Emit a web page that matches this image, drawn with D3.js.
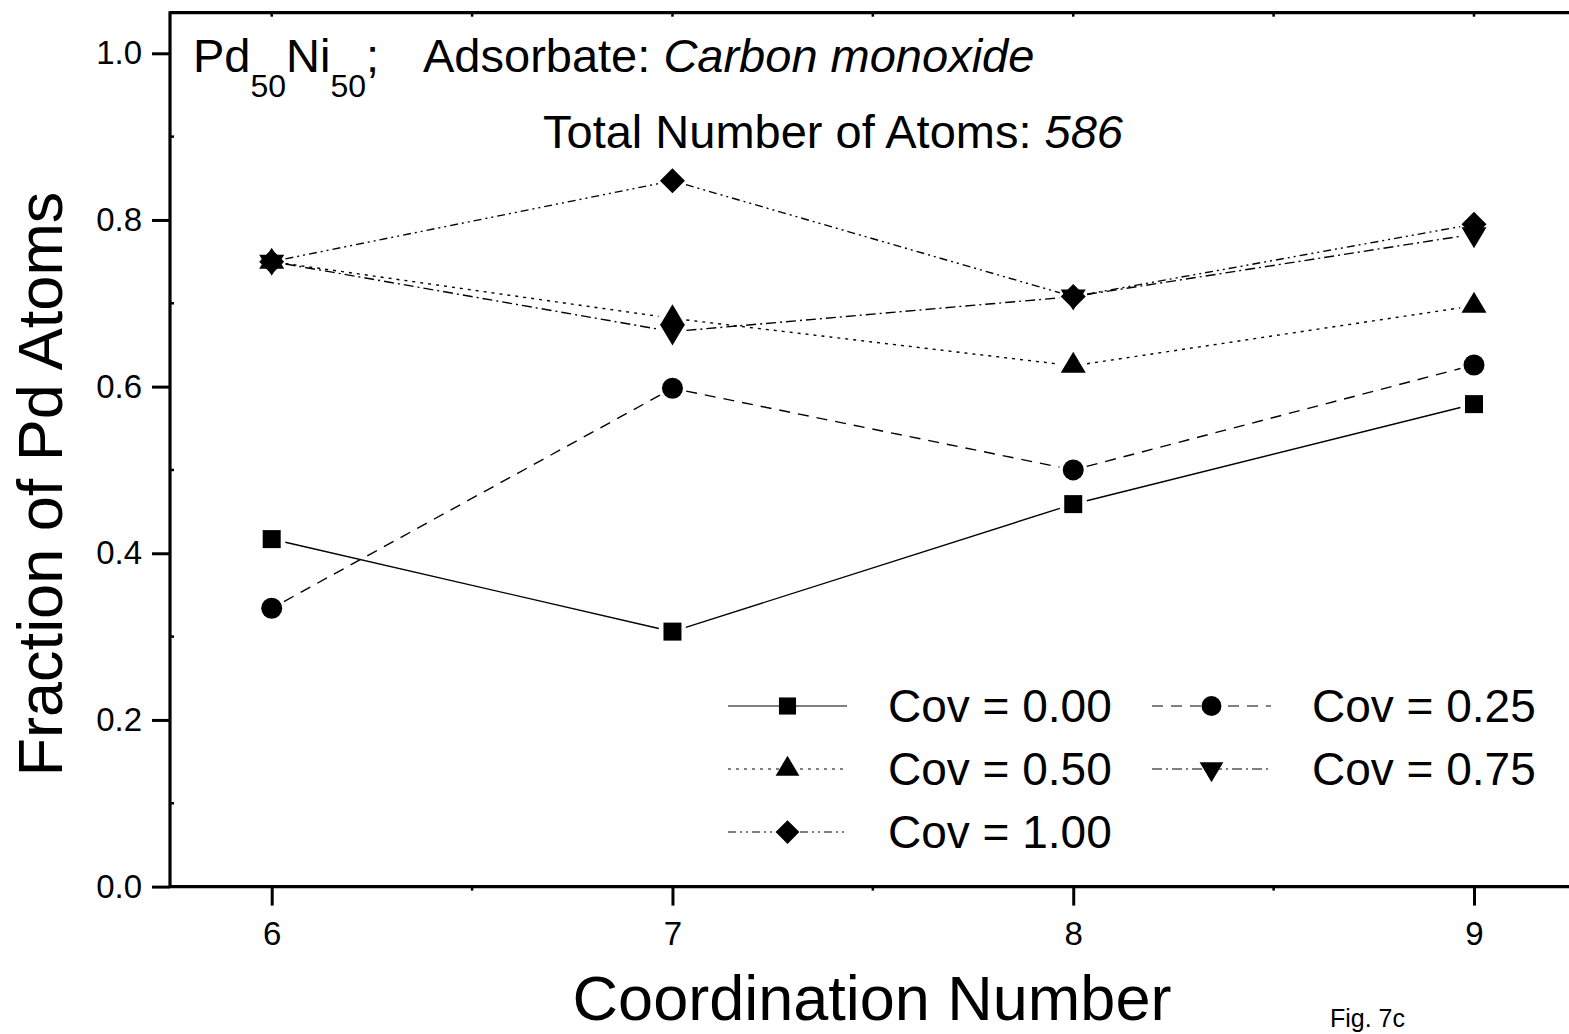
<!DOCTYPE html>
<html>
<head>
<meta charset="utf-8">
<script src="https://cdn.jsdelivr.net/npm/d3@7"></script>
<style>
  body { margin: 0; background: #fff; }
  text { font-family: "Liberation Sans", Arial, Helvetica, sans-serif; fill: #000; }
</style>
</head>
<body>
<div id="page"></div>
<script>
// chart data
const coordNumbers = [6, 7, 8, 9];
const cov000 = [0.417, 0.306, 0.459, 0.579];
const cov025 = [0.334, 0.598, 0.500, 0.626];
const cov050 = [0.750, 0.682, 0.625, 0.697];
const cov075 = [0.750, 0.666, 0.708, 0.783];
const cov100 = [0.750, 0.847, 0.708, 0.795];
const seriesLabels = ['Cov = 0.00', 'Cov = 0.25', 'Cov = 0.50', 'Cov = 0.75', 'Cov = 1.00'];
const yTicks = [0, 0.2, 0.4, 0.6, 0.8, 1.0];
const yMinorTicks = [0.1, 0.3, 0.5, 0.7, 0.9];
const xMinorTicks = [6.5, 7.5, 8.5];

const width = 1569, height = 1034;

// layout
const plotLeft = 170, plotTop = 12.7, plotBottom = 886.6;

var svg = d3.select('#page').append('svg')
	.attr('width', width)
	.attr('height', height);

var x = d3.scaleLinear().domain([6, 9]).range([271.7, 1474]);
var y = d3.scaleLinear().domain([0, 1]).range([plotBottom, 53.3]);

// line styles and symbols, one per series
const styles = [
	{ dash: null, sym: 'square' },
	{ dash: '11,8', sym: 'circle' },
	{ dash: '3,5', sym: 'up' },
	{ dash: '10,4,2,4', sym: 'down' },
	{ dash: '8,4,2,4,2,4', sym: 'diamond' }
];
const seriesValues = [cov000, cov025, cov050, cov075, cov100];

function symbolPath(kind){
	switch(kind){
		case 'square': return 'M-9,-9H9V9H-9Z';
		case 'circle': return d3.symbol(d3.symbolCircle, Math.PI*10.5*10.5)();
		case 'up': return 'M0,-14L12.5,7L-12.5,7Z';
		case 'down': return 'M0,14L12.5,-7L-12.5,-7Z';
		case 'diamond': return 'M0,-12.5L12.5,0L0,12.5L-12.5,0Z';
	}
}

// axes
var yAxis = d3.axisLeft(y).tickValues(yTicks).tickSize(18).tickPadding(10)
	.tickFormat(d3.format('.1f'));
var gy = svg.append('g').attr('transform', 'translate(' + plotLeft + ',0)').call(yAxis);
gy.select('.domain').remove();
gy.selectAll('line').attr('stroke-width', 3);
gy.selectAll('text').style('font-size', '33px');

var xAxis = d3.axisBottom(x).tickValues(coordNumbers).tickSize(19).tickPadding(16)
	.tickFormat(d3.format('d'));
var gx = svg.append('g').attr('transform', 'translate(0,' + plotBottom + ')').call(xAxis);
gx.select('.domain').remove();
gx.selectAll('line').attr('stroke-width', 3);
gx.selectAll('text').style('font-size', '33px');

// frame lines
var frame = svg.append('g').attr('stroke', '#000').attr('stroke-width', 3.2);
frame.append('line').attr('x1', plotLeft).attr('x2', width + 5).attr('y1', plotBottom).attr('y2', plotBottom);
frame.append('line').attr('x1', plotLeft).attr('x2', width + 5).attr('y1', plotTop).attr('y2', plotTop);
frame.append('line').attr('x1', plotLeft).attr('x2', plotLeft).attr('y1', plotTop - 1.5).attr('y2', plotBottom + 1.5);

// little minor ticks
var minor = svg.append('g').attr('stroke', '#000').attr('stroke-width', 2.5);
minor.selectAll('line.xm').data(xMinorTicks).enter().append('line')
	.attr('x1', d => x(d)).attr('x2', d => x(d))
	.attr('y1', plotBottom).attr('y2', plotBottom + 4);
minor.selectAll('line.xt').data(coordNumbers.concat(xMinorTicks)).enter().append('line')
	.attr('x1', d => x(d)).attr('x2', d => x(d))
	.attr('y1', plotTop).attr('y2', plotTop + 4);
minor.selectAll('line.ym').data(yMinorTicks).enter().append('line')
	.attr('x1', plotLeft).attr('x2', plotLeft + 4)
	.attr('y1', d => y(d)).attr('y2', d => y(d));

// series lines, broken a little around each symbol
var gap = 14;
function trim(d, end){
	var dx = d[1][0]-d[0][0], dy = d[1][1]-d[0][1], L = Math.hypot(dx, dy);
	return end ? [d[1][0] - dx/L*gap, d[1][1] - dy/L*gap] : [d[0][0] + dx/L*gap, d[0][1] + dy/L*gap];
}
seriesValues.forEach(function(vals, i){
	var g = svg.append('g').attr('class', 'series');
	var segs = d3.pairs(coordNumbers.map((c, k) => [x(c), y(vals[k])]));
	g.selectAll('line').data(segs).enter().append('line')
		.attr('x1', d => trim(d, false)[0])
		.attr('y1', d => trim(d, false)[1])
		.attr('x2', d => trim(d, true)[0])
		.attr('y2', d => trim(d, true)[1])
		.attr('stroke', '#000').attr('stroke-width', 1.4)
		.attr('stroke-dasharray', styles[i].dash);
});
seriesValues.forEach(function(vals, i){
	svg.append('g').selectAll('path').data(vals).enter().append('path')
		.attr('d', symbolPath(styles[i].sym))
		.attr('transform', (d, k) => 'translate(' + x(coordNumbers[k]) + ',' + y(d) + ')')
		.attr('fill', '#000');
});

// legend
const legendCols = [{ x0: 728, x1: 847, tx: 888 }, { x0: 1152, x1: 1271, tx: 1312 }];
const legendRows = [706, 769, 832];
var legend = svg.append('g').attr('class', 'legend');
seriesLabels.forEach(function(label, i){
	var col = legendCols[i % 2], ry = legendRows[Math.floor(i / 2)];
	legend.append('line')
		.attr('x1', col.x0).attr('x2', col.x1).attr('y1', ry).attr('y2', ry)
		.attr('stroke', '#000').attr('stroke-width', 1.2)
		.attr('stroke-dasharray', styles[i].dash);
	legend.append('path')
		.attr('d', symbolPath(styles[i].sym))
		.attr('transform', 'translate(' + ((col.x0 + col.x1) / 2) + ',' + ry + ') scale(0.95)');
	legend.append('text')
		.attr('x', col.tx).attr('y', ry + 16)
		.style('font-size', '46px')
		.text(label);
});

// titles
var t1 = svg.append('text').attr('x', 193).attr('y', 72).style('font-size', '47px');
t1.append('tspan').text('Pd');
t1.append('tspan').attr('dy', 25).style('font-size', '32px').text('50');
t1.append('tspan').attr('dy', -25).text('Ni');
t1.append('tspan').attr('dy', 25).style('font-size', '32px').text('50');
t1.append('tspan').attr('dy', -25).text(';');
t1.append('tspan').attr('x', 423).text('Adsorbate: ');
t1.append('tspan').style('font-style', 'italic').text('Carbon monoxide');

var t2 = svg.append('text').attr('x', 543).attr('y', 148).style('font-size', '47px');
t2.append('tspan').text('Total Number of Atoms: ');
t2.append('tspan').style('font-style', 'italic').text('586');

// axis titles
svg.append('text')
	.attr('transform', 'translate(62,484) rotate(-90)')
	.attr('text-anchor', 'middle')
	.style('font-size', '63px')
	.text('Fraction of Pd Atoms');
svg.append('text')
	.attr('x', 872).attr('y', 1020)
	.attr('text-anchor', 'middle')
	.style('font-size', '63px')
	.text('Coordination Number');

svg.append('text')
	.attr('x', 1330).attr('y', 1027)
	.style('font-size', '25px')
	.text('Fig. 7c');
</script>
</body>
</html>
